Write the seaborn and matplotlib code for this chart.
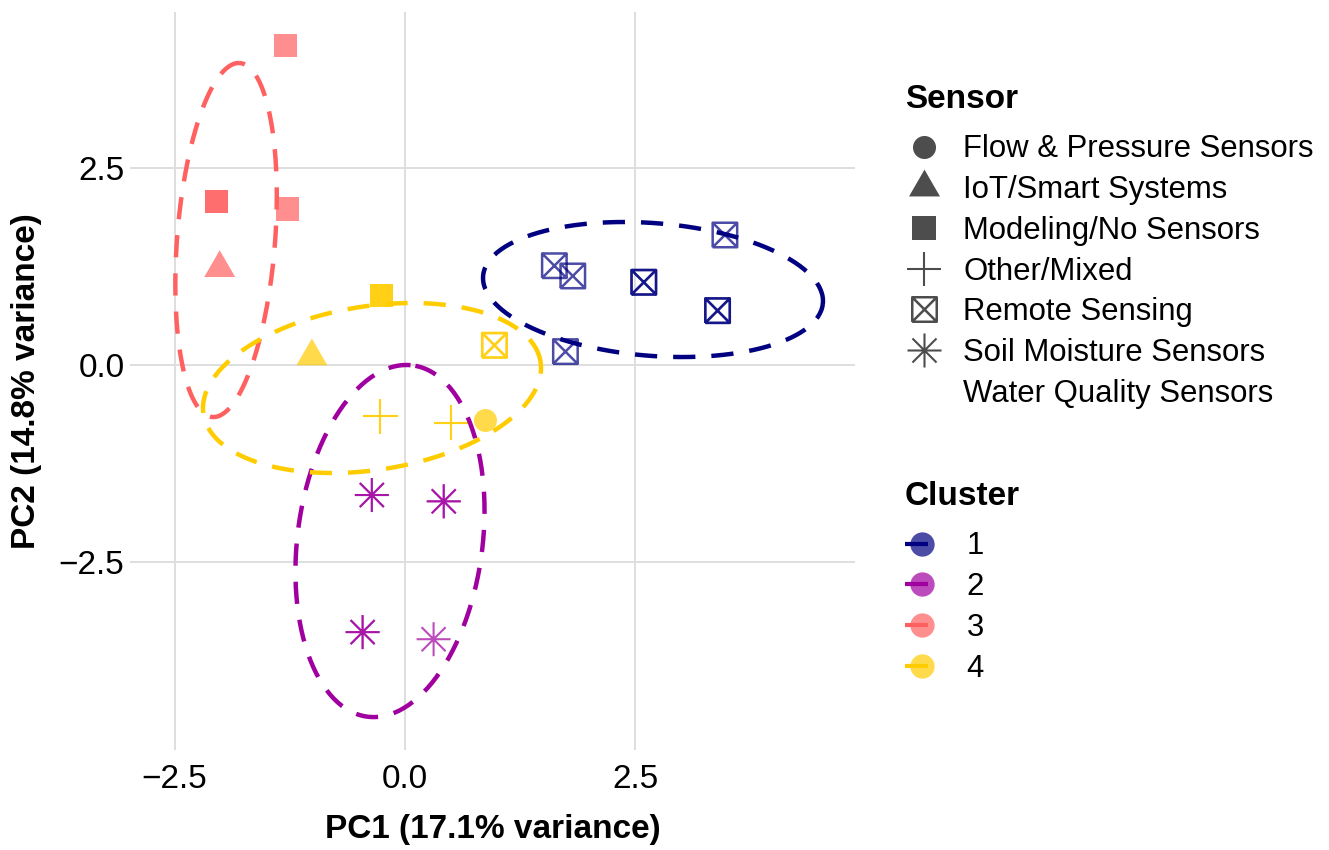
import numpy as np
import pandas as pd
import matplotlib
matplotlib.use("Agg")
import matplotlib.pyplot as plt
from matplotlib.path import Path
from matplotlib.markers import MarkerStyle
from matplotlib.lines import Line2D
from matplotlib.colors import to_rgba
from matplotlib.legend_handler import HandlerBase
import seaborn as sns

# ---- PCA scores (repeated rows are studies sharing the same scores) ----
pc1 = [-1.30, -2.04, -2.04, -1.27, -2.01,
       -0.26, -0.26, -1.01, 0.97, 0.97, -0.27, -0.27, 0.50, 0.50, 0.87,
       -0.36, -0.36, 0.42, 0.42, -0.46, -0.46, 0.31,
       1.62, 1.82, 2.59, 2.59, 3.47, 3.39, 3.39, 1.74]
pc2 = [4.05, 2.07, 2.07, 1.98, 1.23,
       0.88, 0.88, 0.11, 0.25, 0.25, -0.65, -0.65, -0.73, -0.73, -0.70,
       -1.65, -1.65, -1.73, -1.73, -3.39, -3.39, -3.48,
       1.26, 1.13, 1.05, 1.05, 1.65, 0.69, 0.69, 0.17]
cluster = ["3", "3", "3", "3", "3",
           "4", "4", "4", "4", "4", "4", "4", "4", "4", "4",
           "2", "2", "2", "2", "2", "2", "2",
           "1", "1", "1", "1", "1", "1", "1", "1"]
sensor = ["Modeling/No Sensors", "Modeling/No Sensors", "Modeling/No Sensors",
          "Modeling/No Sensors", "IoT/Smart Systems",
          "Modeling/No Sensors", "Modeling/No Sensors", "IoT/Smart Systems",
          "Remote Sensing", "Remote Sensing", "Other/Mixed", "Other/Mixed",
          "Other/Mixed", "Other/Mixed", "Flow & Pressure Sensors",
          "Soil Moisture Sensors", "Soil Moisture Sensors", "Soil Moisture Sensors",
          "Soil Moisture Sensors", "Soil Moisture Sensors", "Soil Moisture Sensors",
          "Soil Moisture Sensors",
          "Remote Sensing", "Remote Sensing", "Remote Sensing", "Remote Sensing",
          "Remote Sensing", "Remote Sensing", "Remote Sensing", "Remote Sensing"]

sensor_levels = ["Flow & Pressure Sensors", "IoT/Smart Systems", "Modeling/No Sensors",
                 "Other/Mixed", "Remote Sensing", "Soil Moisture Sensors",
                 "Water Quality Sensors"]
cluster_levels = ["1", "2", "3", "4"]
cluster_colors = ["#000080", "#A000A0", "#FF6060", "#FFCC00"]

# 95% confidence ellipses per cluster: centre, semi-axes, rotation (deg)
ell_cx = [2.69, -0.163, -1.941, -0.358]
ell_cy = [0.958, -2.234, 1.586, -0.292]
ell_a = [1.851, 2.243, 2.251, 1.859]
ell_b = [0.841, 1.006, 0.532, 1.034]
ell_angle = [-5.7, 84.3, 86.3, 11.5]

x_label = "PC1 (17.1% variance)"
y_label = "PC2 (14.8% variance)"

# ---- marker shapes ----
M, L, C = Path.MOVETO, Path.LINETO, Path.CLOSEPOLY
tri_path = Path([(-1, -0.57735), (1, -0.57735), (0, 1.1547), (-1, -0.57735)], [M, L, L, C])
boxx_path = Path([(-1, -1), (1, -1), (1, 1), (-1, 1), (-1, -1),
                  (-1, -1), (1, 1), (-1, 1), (1, -1)],
                 [M, L, L, L, L, M, L, M, L])
d = 0.7071
star_path = Path([(-1, 0), (1, 0), (0, -1), (0, 1), (-d, -d), (d, d), (-d, d), (d, -d)],
                 [M, L] * 4)

marker_spec = {
    "Flow & Pressure Sensors": dict(marker="o", s=275, lw=0, line_art=False),
    "IoT/Smart Systems": dict(marker=MarkerStyle(tri_path), s=664, lw=0, line_art=False),
    "Modeling/No Sensors": dict(marker="s", s=275, lw=0, line_art=False),
    "Other/Mixed": dict(marker="+", s=635, lw=1.5, line_art=True),
    "Remote Sensing": dict(marker=MarkerStyle(boxx_path), s=311, lw=1.8, line_art=True),
    "Soil Moisture Sensors": dict(marker=MarkerStyle(star_path), s=600, lw=1.5, line_art=True),
}

df = pd.DataFrame({"PC1": pc1, "PC2": pc2, "Cluster": cluster, "Sensor": sensor})
palette = dict(zip(cluster_levels, cluster_colors))
ALPHA = 0.7

sns.set_theme(style="whitegrid")
plt.rcParams["font.family"] = ["Liberation Sans", "DejaVu Sans"]
plt.rcParams["grid.color"] = "#DEDEDE"
plt.rcParams["grid.linewidth"] = 1.4
plt.rcParams["text.color"] = "black"
plt.rcParams["axes.labelcolor"] = "black"

fig = plt.figure(figsize=(13.29, 8.5), dpi=100)
ax = fig.add_axes([130 / 1329, 1 - 750 / 850, 725 / 1329, 738 / 850])

for name, spec in marker_spec.items():
    sub = df[df["Sensor"] == name]
    if sub.empty:
        continue
    n_before = len(ax.collections)
    sns.scatterplot(data=sub, x="PC1", y="PC2", hue="Cluster", palette=palette,
                    hue_order=cluster_levels, marker=spec["marker"], s=spec["s"],
                    linewidth=spec["lw"], alpha=ALPHA, legend=False, ax=ax, zorder=2)
    if spec["line_art"]:
        # open symbols: stroke in the cluster colour, no fill
        coll = ax.collections[n_before]
        cols = [to_rgba(palette[c], ALPHA) for c in sub["Cluster"]]
        coll.set_facecolor("none")
        coll.set_edgecolor(cols)
        coll.set_linewidth(spec["lw"])
        coll.set_alpha(None)

# ellipse outlines
t = np.linspace(0, 2 * np.pi, 241)
rows = []
for k, lvl in enumerate(cluster_levels):
    th = np.deg2rad(ell_angle[k])
    ex = ell_cx[k] + ell_a[k] * np.cos(t) * np.cos(th) - ell_b[k] * np.sin(t) * np.sin(th)
    ey = ell_cy[k] + ell_a[k] * np.cos(t) * np.sin(th) + ell_b[k] * np.sin(t) * np.cos(th)
    rows.append(pd.DataFrame({"x": ex, "y": ey, "Cluster": lvl}))
ell_df = pd.concat(rows, ignore_index=True)
sns.lineplot(data=ell_df, x="x", y="y", hue="Cluster", palette=palette,
             hue_order=cluster_levels, sort=False, estimator=None, linewidth=3.2,
             linestyle=(0, (5.0, 3.6)), legend=False, ax=ax, zorder=3)

ax.set_xlim(-2.983, 4.881)
ax.set_ylim(-4.886, 4.48)
ax.set_xticks([-2.5, 0.0, 2.5])
ax.set_yticks([-2.5, 0.0, 2.5])
ax.set_xticklabels(["\u22122.5", "0.0", "2.5"])
ax.set_yticklabels(["\u22122.5", "0.0", "2.5"])
ax.tick_params(axis="both", length=0, labelsize=24, colors="black")
ax.tick_params(axis="x", pad=10)
ax.tick_params(axis="y", pad=4)
ax.set_xlabel(x_label, fontsize=24, fontweight="bold", labelpad=14)
ax.set_ylabel(y_label, fontsize=24, fontweight="bold", labelpad=12)
ax.grid(True, which="major")
sns.despine(ax=ax, left=True, bottom=True, right=True, top=True)

# ---- legends ----
key_grey = "#4D4D4D"
sensor_handles = []
for name in sensor_levels:
    if name in marker_spec:
        spec = marker_spec[name]
        ms = np.sqrt(spec["s"])
        if spec["line_art"]:
            h = Line2D([], [], linestyle="none", marker=spec["marker"], markersize=ms,
                       markeredgewidth=spec["lw"], markerfacecolor="none",
                       markeredgecolor=key_grey, fillstyle="none")
        else:
            h = Line2D([], [], linestyle="none", marker=spec["marker"], markersize=ms,
                       markeredgewidth=0, markerfacecolor=key_grey,
                       markeredgecolor=key_grey)
    else:
        h = Line2D([], [], linestyle="none", marker=None)
    sensor_handles.append(h)

title_font = {"weight": "bold", "size": 24}

leg1 = ax.legend(sensor_handles, sensor_levels, title="Sensor",
                 loc="upper left", bbox_to_anchor=(905 / 1329, 1 - 84 / 850),
                 bbox_transform=fig.transFigure, frameon=False, fontsize=22.4,
                 title_fontproperties=title_font,
                 handlelength=1.2, handletextpad=0.68, labelspacing=0.345,
                 borderpad=0, borderaxespad=0, alignment="left")
leg1._legend_box.sep = 14
ax.add_artist(leg1)


class ClusterKey(HandlerBase):
    def create_artists(self, legend, orig_handle, xdescent, ydescent,
                       width, height, fontsize, trans):
        col = orig_handle.get_color()
        cx = width / 2 - xdescent
        cy = height / 2 - ydescent
        dot = Line2D([cx], [cy], linestyle="none", marker="o", markersize=17.5,
                     markerfacecolor=col, markeredgecolor=col, alpha=ALPHA,
                     markeredgewidth=0)
        seg = Line2D([-xdescent, cx + 4], [cy, cy], color=col, linewidth=3.0,
                     solid_capstyle="butt")
        dot.set_transform(trans)
        seg.set_transform(trans)
        return [dot, seg]


cluster_handles = [Line2D([], [], color=c) for c in cluster_colors]
leg2 = ax.legend(cluster_handles, cluster_levels, title="Cluster",
                 loc="upper left", bbox_to_anchor=(905 / 1329, 1 - 481 / 850),
                 bbox_transform=fig.transFigure, frameon=False, fontsize=22.4,
                 title_fontproperties=title_font,
                 handler_map={Line2D: ClusterKey()},
                 handlelength=1.1, handletextpad=0.88, labelspacing=0.345,
                 borderpad=0, borderaxespad=0, alignment="left")
leg2._legend_box.sep = 14

fig.savefig("out.png", dpi=100, facecolor="white")
